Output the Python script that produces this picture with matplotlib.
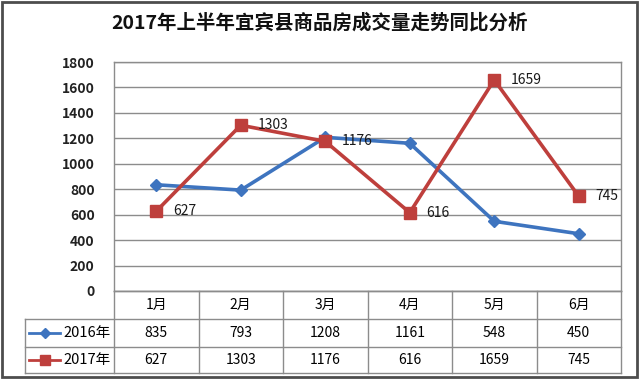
import matplotlib
matplotlib.use('Agg')
import matplotlib.pyplot as plt
from matplotlib.lines import Line2D
from matplotlib.patches import Rectangle

plt.rcParams['font.family'] = ['Noto Sans CJK SC', 'DejaVu Sans']

title = '2017年上半年宜宾县商品房成交量走势同比分析'
months = ['1月', '2月', '3月', '4月', '5月', '6月']
series_names = ['2016年', '2017年']
sales_2016 = [835, 793, 1208, 1161, 548, 450]
sales_2017 = [627, 1303, 1176, 616, 1659, 745]
yticks = [0, 200, 400, 600, 800, 1000, 1200, 1400, 1600, 1800]

blue = '#3E74BF'
red = '#BE3F3C'
grid_c = '#8C8C8C'

W, H = 640, 380
fig = plt.figure(figsize=(W / 100, H / 100), dpi=100)

# plot area in pixel coords
left, right, top, bottom = 114, 621, 62, 291
col_w = (right - left) / len(months)

ax = fig.add_axes([left / W, 1 - bottom / H, (right - left) / W, (bottom - top) / H])
x = list(range(len(months)))
ax.plot(x, sales_2016, color=blue, lw=2.6, marker='D', ms=6.5, zorder=3)
ax.plot(x, sales_2017, color=red, lw=2.6, marker='s', ms=9, zorder=4)
for xi, v in zip(x, sales_2017):
    ax.annotate(str(v), (xi, v), xytext=(12, 0), textcoords='offset points',
                va='center', ha='left', fontsize=10, color='#1a1a1a', zorder=5)
ax.set_xlim(-0.5, len(months) - 0.5)
ax.set_ylim(0, 1800)
ax.set_yticks(yticks)
ax.set_yticklabels([str(t) for t in yticks], fontsize=10, fontweight='bold', color='#222222')
ax.tick_params(axis='y', length=0, pad=14)
ax.set_xticks([])
ax.yaxis.grid(True, color=grid_c, lw=1)
ax.set_axisbelow(True)
for s in ax.spines.values():
    s.set_color(grid_c)
    s.set_linewidth(1)

# overlay for title and frame
ov = fig.add_axes([0, 0, 1, 1], zorder=-1)
ov.set_xlim(0, W)
ov.set_ylim(H, 0)
ov.axis('off')
ov.add_patch(Rectangle((2, 2), W - 5, H - 5, fill=False, ec='#4d4d4d', lw=2))
fig.text(0.5, 1 - 23 / H, title, ha='center', va='center', fontsize=14,
         fontweight='bold', color='#111111')

# data table under the chart
tbl = fig.add_axes([0, 0, 1, 1], zorder=2)
tbl.set_xlim(0, W)
tbl.set_ylim(H, 0)
tbl.axis('off')
tbl.patch.set_alpha(0)

row_y = [291, 319, 347, 373]
leg_left = 25
lc = '#8C8C8C'
tbl.plot([left, right], [row_y[0], row_y[0]], color=lc, lw=1)
for yy in row_y[1:]:
    tbl.plot([leg_left, right], [yy, yy], color=lc, lw=1)
tbl.plot([leg_left, leg_left], [row_y[1], row_y[3]], color=lc, lw=1)
for i in range(len(months) + 1):
    xx = left + i * col_w
    tbl.plot([xx, xx], [row_y[0], row_y[3]], color=lc, lw=1)

for i, m in enumerate(months):
    cx = left + (i + 0.5) * col_w
    tbl.text(cx, (row_y[0] + row_y[1]) / 2, m, ha='center', va='center', fontsize=10)
    tbl.text(cx, (row_y[1] + row_y[2]) / 2, str(sales_2016[i]), ha='center', va='center', fontsize=10)
    tbl.text(cx, (row_y[2] + row_y[3]) / 2, str(sales_2017[i]), ha='center', va='center', fontsize=10)

for r, (name, c, mk, ms) in enumerate(zip(series_names, [blue, red], ['D', 's'], [5.5, 7.5])):
    cy = (row_y[r + 1] + row_y[r + 2]) / 2
    tbl.add_line(Line2D([29, 60], [cy, cy], color=c, lw=2))
    tbl.add_line(Line2D([44.5], [cy], color=c, marker=mk, ms=ms, lw=0))
    tbl.text(63, cy, name, ha='left', va='center', fontsize=10.5)

fig.savefig('out.png', dpi=100)
